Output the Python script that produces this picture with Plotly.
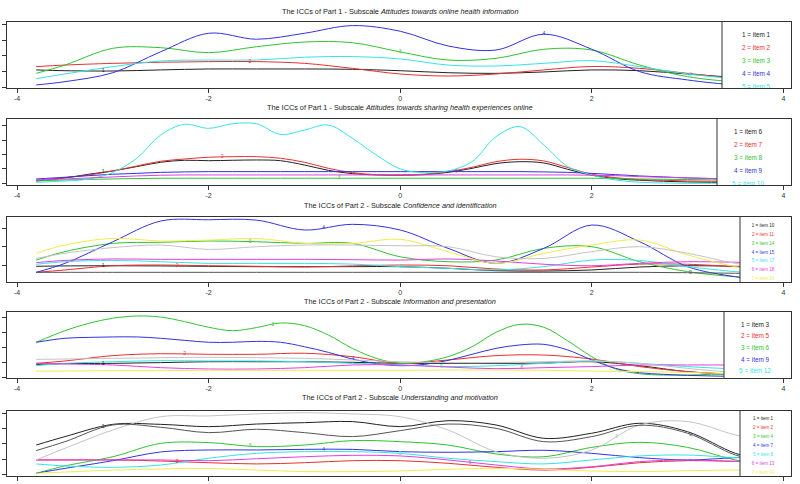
import numpy as np
import plotly.graph_objects as go

# ---------------- data ----------------
X = [-3.8, -3.5, -3.0, -2.5, -2.0, -1.5, -1.0, -0.5, 0.0, 0.5, 1.0, 1.5, 2.0, 2.5, 3.0, 3.5, 3.8]
XF = [-3.8, -3.5, -3.25, -3.0, -2.75, -2.5, -2.25, -2.0, -1.75, -1.5, -1.25, -1.0, -0.75, -0.5, -0.25,
      0.0, 0.25, 0.5, 0.75, 1.0, 1.25, 1.5, 1.75, 2.0, 2.25, 2.5, 2.75, 3.0, 3.25, 3.5, 3.8]

X_TICKS = [-4, -2, 0, 2, 4]
X_TICK_TEXT = ["-4", "-2", "0", "2", "4"]

COLORS = ["#222222", "#e8302f", "#2fc42f", "#3232e0", "#36e4e4", "#e23ee2", "#f2ec4a", "#c4c4c4", "#555555"]

# Panel 1 - Attitudes towards online health information
P1_TITLE = ("1", "Attitudes towards online health information")
P1_LEGEND = ["1 = item 1", "2 = item 2", "3 = item 3", "4 = item 4", "5 = item 5"]
P1_ITEM1 = [1.11, 1.06, 1.04, 1.11, 1.17, 1.17, 1.17, 1.15, 1.06, 0.93, 0.89, 0.98, 1.11, 1.06, 0.85, 0.63, 0.53]
P1_ITEM2 = [1.32, 1.42, 1.53, 1.60, 1.64, 1.64, 1.53, 1.21, 0.85, 0.72, 0.85, 1.11, 1.33, 1.21, 0.89, 0.56, 0.47]
P1_ITEM3 = [0.89, 1.42, 2.49, 2.53, 2.21, 2.59, 2.89, 2.85, 2.26, 1.74, 1.85, 2.43, 2.38, 1.42, 0.68, 0.34, 0.21]
P1_ITEM4 = [0.15, 0.36, 0.93, 2.27, 3.45, 3.07, 3.45, 3.94, 3.58, 2.64, 2.38, 3.39, 2.43, 1.00, 0.47, 0.15, 0.08]
P1_ITEM5 = [0.55, 0.85, 1.32, 1.68, 1.74, 1.74, 1.92, 1.96, 1.81, 1.42, 1.36, 1.53, 1.70, 1.32, 0.85, 0.56, 0.47]
P1_LABEL_X = [-3.1, -1.57, 0.0, 1.5, 3.03]

# Panel 2 - Attitudes towards sharing health experiences online
P2_TITLE = ("1", "Attitudes towards sharing health experiences online")
P2_LEGEND = ["1 = item 6", "2 = item 7", "3 = item 8", "4 = item 9", "5 = item 10"]
P2_ITEM6 = [0.16, 0.37, 0.63, 0.86, 1.16, 1.46, 1.60, 1.57, 1.60, 1.62, 1.57, 1.27, 0.90, 0.67, 0.58, 0.56,
            0.60, 0.76, 1.04, 1.37, 1.50, 1.41, 0.97, 0.56, 0.32, 0.21, 0.14, 0.09, 0.07, 0.05, 0.05]
P2_ITEM7 = [0.21, 0.39, 0.58, 0.86, 1.20, 1.53, 1.69, 1.81, 1.85, 1.85, 1.74, 1.46, 1.04, 0.74, 0.60, 0.58,
            0.63, 0.81, 1.11, 1.50, 1.67, 1.55, 1.09, 0.63, 0.39, 0.25, 0.21, 0.16, 0.14, 0.12, 0.09]
P2_ITEM8 = [0.16, 0.23, 0.27, 0.30, 0.33, 0.35, 0.35, 0.35, 0.35, 0.35, 0.35, 0.35, 0.35, 0.35, 0.35, 0.35,
            0.35, 0.35, 0.35, 0.35, 0.35, 0.35, 0.35, 0.35, 0.33, 0.30, 0.28, 0.26, 0.24, 0.21, 0.19]
P2_ITEM9 = [0.30, 0.42, 0.53, 0.63, 0.69, 0.76, 0.79, 0.81, 0.81, 0.81, 0.81, 0.81, 0.81, 0.81, 0.81, 0.81,
            0.81, 0.81, 0.81, 0.81, 0.81, 0.79, 0.76, 0.69, 0.60, 0.51, 0.44, 0.37, 0.33, 0.28, 0.23]
P2_ITEM10 = [0.07, 0.16, 0.30, 0.75, 1.74, 3.36, 4.10, 3.82, 4.14, 4.14, 3.40, 3.70, 4.05, 3.13, 1.97, 1.00,
             0.74, 0.86, 1.50, 3.24, 3.94, 2.66, 1.16, 0.58, 0.23, 0.07, 0.02, 0.00, 0.00, 0.00, 0.00]
P2_ITEM11 = [0.23, 0.30, 0.37, 0.44, 0.51, 0.56, 0.58, 0.58, 0.58, 0.58, 0.58, 0.58, 0.58, 0.58, 0.58, 0.58,
             0.58, 0.58, 0.58, 0.58, 0.58, 0.58, 0.58, 0.56, 0.53, 0.46, 0.42, 0.37, 0.33, 0.30, 0.25]
P2_LABEL_X = [-3.1, -1.86, -0.64, 0.58, None, None]

# Panel 3 - Confidence and identification
P3_TITLE = ("2", "Confidence and identification")
P3_LEGEND = ["1 = item 10", "2 = item 11", "3 = item 14", "4 = item 15", "5 = item 17", "6 = item 18", "7 = item 19"]
P3_ITEM10 = [0.93, 0.95, 0.96, 0.95, 0.93, 0.91, 0.91, 0.91, 0.91, 0.82, 0.69, 0.67, 0.73, 0.89, 0.96, 0.93, 0.89]
P3_ITEM11 = [0.60, 0.73, 0.96, 1.00, 0.96, 0.93, 0.89, 0.95, 1.00, 0.96, 0.78, 0.73, 0.89, 1.05, 1.04, 0.91, 0.82]
P3_ITEM14 = [1.27, 1.73, 2.18, 2.24, 2.31, 2.27, 2.18, 2.18, 1.45, 1.18, 1.27, 1.91, 2.00, 1.18, 0.64, 0.36, 0.27]
P3_ITEM15 = [0.60, 1.09, 2.27, 3.40, 3.47, 3.45, 2.91, 3.22, 2.91, 1.91, 1.09, 1.91, 3.18, 2.27, 0.91, 0.36, 0.18]
P3_ITEM17 = [1.04, 1.18, 1.25, 1.18, 1.09, 1.09, 1.09, 1.05, 0.91, 0.82, 0.73, 0.91, 1.27, 1.25, 0.91, 0.64, 0.55]
P3_ITEM18 = [1.13, 1.25, 1.33, 1.31, 1.31, 1.31, 1.31, 1.29, 1.27, 1.33, 1.22, 1.04, 0.96, 1.09, 1.18, 1.15, 1.13]
P3_ITEM19 = [1.64, 2.09, 2.45, 2.31, 2.36, 2.45, 2.18, 2.18, 2.40, 1.73, 1.09, 1.64, 2.09, 2.36, 1.55, 0.91, 0.67]
P3_ITEM20 = [1.36, 1.64, 1.95, 2.09, 1.85, 2.00, 2.09, 2.09, 2.05, 2.00, 1.45, 1.36, 1.73, 2.00, 1.64, 1.09, 0.91]
P3_ITEM21 = [0.60, 0.60, 0.60, 0.60, 0.60, 0.60, 0.60, 0.60, 0.60, 0.60, 0.60, 0.60, 0.60, 0.60, 0.58, 0.55, 0.53]
P3_LABEL_X = [-3.1, -2.33, -1.57, -0.8, 0.0, None, None, None, 3.03]

# Panel 4 - Information and presentation
P4_TITLE = ("2", "Information and presentation")
P4_LEGEND = ["1 = item 3", "2 = item 5", "3 = item 6", "4 = item 9", "5 = item 12"]
P4_ITEM3 = [0.85, 0.90, 0.92, 0.97, 1.03, 1.03, 1.03, 0.99, 0.92, 0.92, 0.92, 0.94, 1.03, 0.76, 0.36, 0.18, 0.13]
P4_ITEM5 = [0.92, 1.08, 1.44, 1.57, 1.53, 1.53, 1.60, 1.37, 0.92, 1.15, 1.44, 1.48, 1.21, 0.70, 0.36, 0.18, 0.13]
P4_ITEM6 = [2.34, 3.12, 3.62, 3.96, 4.11, 4.04, 3.73, 3.35, 3.12, 3.33, 3.64, 3.46, 2.83, 1.93, 1.26, 0.92,
            1.03, 1.37, 2.04, 3.01, 3.55, 3.35, 2.43, 1.37, 0.54, 0.22, 0.13, 0.13, 0.18, 0.18, 0.18]
P4_ITEM9 = [2.34, 2.61, 2.67, 2.70, 2.70, 2.61, 2.47, 2.34, 2.34, 2.40, 2.34, 2.04, 1.66, 1.21, 0.90, 0.76,
            0.85, 1.12, 1.53, 1.93, 2.16, 2.20, 1.82, 1.15, 0.58, 0.29, 0.18, 0.11, 0.07, 0.04, 0.02]
P4_ITEM12 = [0.76, 0.92, 1.03, 1.10, 1.08, 1.08, 1.03, 0.92, 0.81, 0.70, 0.76, 0.92, 1.08, 0.92, 0.70, 0.54, 0.47]
P4_ITEM13 = [0.92, 0.88, 0.81, 0.63, 0.54, 0.54, 0.63, 0.81, 0.81, 0.67, 0.56, 0.63, 0.70, 0.81, 0.81, 0.81, 0.81]
P4_ITEM14 = [0.40, 0.40, 0.43, 0.43, 0.45, 0.45, 0.45, 0.45, 0.45, 0.47, 0.47, 0.45, 0.40, 0.36, 0.31, 0.22, 0.20]
P4_ITEM15 = [1.19, 1.21, 1.26, 1.30, 1.33, 1.30, 1.26, 1.15, 1.03, 0.97, 0.97, 1.03, 1.08, 0.92, 0.58, 0.31, 0.25]
P4_LABEL_X = [-3.1, -2.25, -1.33, -0.49, 0.43, 1.27, 2.2, None]

# Panel 5 - Understanding and motivation
P5_TITLE = ("2", "Understanding and motivation")
P5_LEGEND = ["1 = item 1", "2 = item 2", "3 = item 4", "4 = item 7", "5 = item 8", "6 = item 13", "7 = item 14"]
P5_ITEM1 = [1.93, 2.48, 3.28, 3.28, 3.13, 3.30, 3.39, 3.46, 3.13, 3.52, 3.24, 2.37, 2.70, 3.35, 2.80, 1.39, 0.96]
P5_ITEM2 = [0.96, 0.96, 0.96, 0.89, 0.78, 0.70, 0.78, 0.91, 0.91, 0.74, 0.48, 0.30, 0.48, 0.78, 0.91, 0.87, 0.85]
P5_ITEM4 = [0.09, 0.57, 1.17, 2.04, 2.09, 1.83, 1.93, 2.22, 2.15, 1.93, 1.35, 1.17, 1.78, 2.11, 1.78, 0.96, 0.74]
P5_ITEM7 = [0.09, 0.41, 0.91, 1.48, 1.61, 1.61, 1.65, 1.65, 1.50, 1.46, 1.50, 1.59, 1.39, 1.11, 0.96, 1.11, 1.17]
P5_ITEM8 = [0.70, 0.57, 0.48, 0.63, 1.07, 1.39, 1.50, 1.50, 1.39, 1.07, 0.85, 0.70, 0.96, 1.22, 1.28, 1.11, 1.07]
P5_ITEM13 = [0.96, 0.96, 0.96, 0.96, 0.91, 1.04, 1.17, 1.26, 1.22, 0.96, 0.63, 0.37, 0.52, 0.85, 0.96, 0.87, 0.85]
P5_ITEM14 = [0.09, 0.17, 0.30, 0.37, 0.41, 0.30, 0.20, 0.20, 0.24, 0.35, 0.41, 0.35, 0.24, 0.20, 0.26, 0.30, 0.30]
P5_ITEM15 = [0.96, 1.72, 2.91, 3.78, 3.83, 3.96, 4.04, 3.96, 3.78, 2.91, 1.50, 1.07, 1.61, 3.24, 3.46, 2.59, 2.26]
P5_ITEM16 = [1.57, 2.15, 3.24, 3.09, 2.74, 2.96, 2.74, 2.48, 2.87, 3.30, 3.02, 2.15, 2.48, 3.22, 2.70, 1.28, 0.91]
P5_LABEL_X = [-3.1, -2.33, -1.57, -0.8, 0.0, 0.73, None, 2.26, 3.03]

# ---------------- layout geometry (pixels of the 800x484 page) ----------------
W, H = 800, 484
BOX_L, BOX_R = 7, 791
XMIN, XMAX = -4.105, 4.08

panels = [
    dict(title=P1_TITLE, legend=P1_LEGEND, labels=P1_LABEL_X,
         curves=[(X, P1_ITEM1), (X, P1_ITEM2), (X, P1_ITEM3), (X, P1_ITEM4), (X, P1_ITEM5)],
         top=22, bottom=88, yr=[-0.045, 4.17], yt=[0, 1, 2, 3, 4], title_y=11.5,
         leg_left=722, leg_cx=756, leg_y0=35, leg_dy=13.1, leg_fs=6.4, xlabels=True),
    dict(title=P2_TITLE, legend=P2_LEGEND, labels=P2_LABEL_X,
         curves=[(XF, P2_ITEM6), (XF, P2_ITEM7), (XF, P2_ITEM8), (XF, P2_ITEM9), (XF, P2_ITEM10), (XF, P2_ITEM11)],
         top=119, bottom=185, yr=[-0.12, 4.47], yt=[0, 1, 2, 3, 4], title_y=107.3,
         leg_left=717, leg_cx=748, leg_y0=132.7, leg_dy=12.9, leg_fs=6.4, xlabels=True),
    dict(title=P3_TITLE, legend=P3_LEGEND, labels=P3_LABEL_X,
         curves=[(X, P3_ITEM10), (X, P3_ITEM11), (X, P3_ITEM14), (X, P3_ITEM15), (X, P3_ITEM17),
                 (X, P3_ITEM18), (X, P3_ITEM19), (X, P3_ITEM20), (X, P3_ITEM21)],
         top=217, bottom=282, yr=[0.073, 3.62], yt=[1, 2, 3], title_y=205,
         leg_left=740, leg_cx=763, leg_y0=225.7, leg_dy=8.9, leg_fs=4.5, xlabels=True),
    dict(title=P4_TITLE, legend=P4_LEGEND, labels=P4_LABEL_X,
         curves=[(X, P4_ITEM3), (X, P4_ITEM5), (XF, P4_ITEM6), (XF, P4_ITEM9), (X, P4_ITEM12),
                 (X, P4_ITEM13), (X, P4_ITEM14), (X, P4_ITEM15)],
         top=312, bottom=378, yr=[-0.067, 4.38], yt=[0, 1, 2, 3, 4], title_y=301,
         leg_left=724, leg_cx=755, leg_y0=325, leg_dy=11.7, leg_fs=6.4, xlabels=True),
    dict(title=P5_TITLE, legend=P5_LEGEND, labels=P5_LABEL_X,
         curves=[(X, P5_ITEM1), (X, P5_ITEM2), (X, P5_ITEM4), (X, P5_ITEM7), (X, P5_ITEM8),
                 (X, P5_ITEM13), (X, P5_ITEM14), (X, P5_ITEM15), (X, P5_ITEM16)],
         top=411, bottom=476, yr=[-0.087, 4.15], yt=[0, 1, 2, 3, 4], title_y=397.5,
         leg_left=740, leg_cx=763, leg_y0=419.3, leg_dy=8.95, leg_fs=4.5, xlabels=False),
]

FONT = "Liberation Sans, Arial, Helvetica, sans-serif"

fig = go.Figure()
layout = {}
annotations = []


def px_to_x(px):
    return XMIN + (px - BOX_L) / (BOX_R - BOX_L) * (XMAX - XMIN)


for i, p in enumerate(panels):
    n = "" if i == 0 else str(i + 1)
    xa, ya = "x" + n, "y" + n
    top, bot = p["top"], p["bottom"]
    y0, y1 = p["yr"]

    def px_to_y(py, top=top, bot=bot, y0=y0, y1=y1):
        return y1 - (py - top) / (bot - top) * (y1 - y0)

    layout["xaxis" + n] = dict(
        domain=[BOX_L / W, BOX_R / W], range=[XMIN, XMAX], anchor=ya,
        tickvals=X_TICKS, ticktext=X_TICK_TEXT, ticks="outside", ticklen=4, tickwidth=1,
        tickcolor="#333", showline=True, mirror=True, linecolor="#333", linewidth=1,
        showgrid=False, zeroline=False, tickfont=dict(size=7, color="#333", family=FONT),
        showticklabels=p["xlabels"], automargin=False, fixedrange=True)
    layout["yaxis" + n] = dict(
        domain=[1 - bot / H, 1 - top / H], range=[y0, y1], anchor=xa,
        tickvals=p["yt"], showticklabels=False, ticks="outside", ticklen=4, tickwidth=1,
        tickcolor="#333", showline=True, mirror=True, linecolor="#333", linewidth=1,
        showgrid=False, zeroline=False, automargin=False, fixedrange=True)

    # curves
    for k, (cx, cy) in enumerate(p["curves"]):
        fig.add_trace(go.Scatter(x=cx, y=cy, mode="lines", xaxis=xa, yaxis=ya,
                                 line=dict(color=COLORS[k % len(COLORS)], width=1, shape="spline", smoothing=1),
                                 hoverinfo="skip"))
    # curve number labels
    lx, ly, lt, lc = [], [], [], []
    for k, (cx, cy) in enumerate(p["curves"]):
        if k < len(p["labels"]) and p["labels"][k] is not None:
            xv = p["labels"][k]
            lx.append(xv)
            ly.append(float(np.interp(xv, cx, cy)))
            lt.append(str(k + 1))
            lc.append(COLORS[k % len(COLORS)])
    fig.add_trace(go.Scatter(x=lx, y=ly, text=lt, mode="text", xaxis=xa, yaxis=ya,
                             textfont=dict(size=5, color=lc, family=FONT), hoverinfo="skip"))

    # legend box (white, covers the curve ends)
    xl = px_to_x(p["leg_left"])
    fig.add_trace(go.Scatter(x=[xl, XMAX + 1, XMAX + 1, xl, xl],
                             y=[y0 - 1, y0 - 1, y1 + 1, y1 + 1, y0 - 1],
                             mode="lines", fill="toself", fillcolor="white",
                             line=dict(color="#333", width=1), xaxis=xa, yaxis=ya, hoverinfo="skip"))
    # legend texts
    nleg = len(p["legend"])
    fig.add_trace(go.Scatter(
        x=[px_to_x(p["leg_cx"])] * nleg,
        y=[px_to_y(p["leg_y0"] + j * p["leg_dy"]) for j in range(nleg)],
        text=p["legend"], mode="text", xaxis=xa, yaxis=ya,
        textfont=dict(size=p["leg_fs"], color=[COLORS[j] for j in range(nleg)], family=FONT),
        hoverinfo="skip", cliponaxis=True))

    part, sub = p["title"]
    annotations.append(dict(
        text=f"The ICCs of Part {part} - Subscale <i>{sub}</i>", xref="paper", yref="paper",
        x=0.5, y=1 - p["title_y"] / H, xanchor="center", yanchor="middle", showarrow=False,
        font=dict(size=7.3, color="#222", family=FONT)))

fig.update_layout(width=W, height=H, margin=dict(l=0, r=0, t=0, b=0), template="none",
                  paper_bgcolor="white", plot_bgcolor="white", showlegend=False,
                  annotations=annotations, font=dict(family=FONT), **layout)

fig.write_html("out.html", config={"displayModeBar": False},
               post_script="document.body.style.margin='0';")
